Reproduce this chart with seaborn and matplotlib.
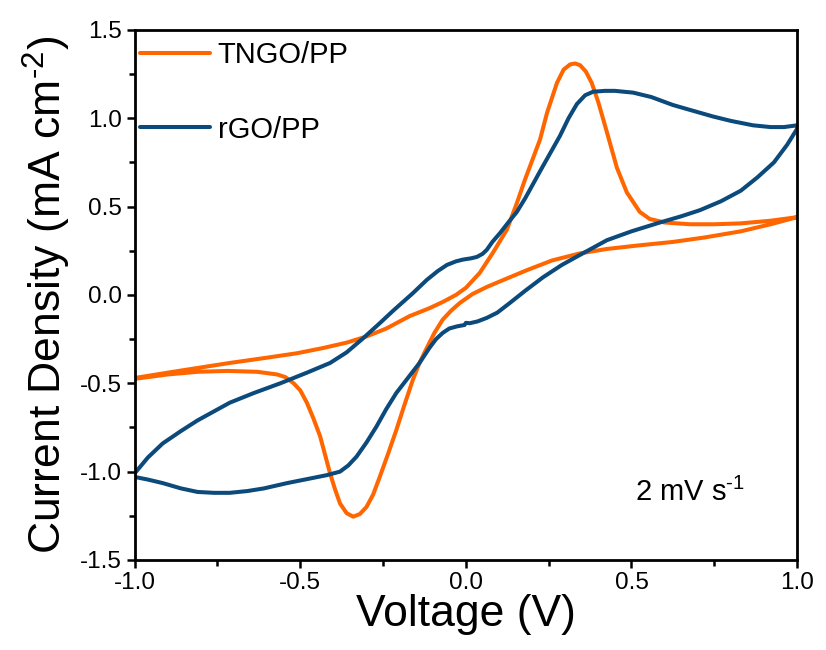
import numpy as np
import pandas as pd
import matplotlib
matplotlib.use("Agg")
import matplotlib.pyplot as plt
import seaborn as sns
from matplotlib.ticker import MultipleLocator

# CV loops (voltage in V, current density in mA cm-2)
tngo_v = [-1.0, -0.85, -0.713, -0.60, -0.51, -0.43, -0.36, -0.30, -0.24, -0.17, -0.11,
          -0.07, -0.03, 0.0, 0.042, 0.082, 0.124, 0.154, 0.178, 0.20, 0.224, 0.245,
          0.275, 0.295, 0.315, 0.33, 0.345, 0.362, 0.38, 0.40, 0.426, 0.456, 0.486, 0.525,
          0.555, 0.60, 0.677, 0.75, 0.83, 0.92, 1.0,
          0.92, 0.83, 0.72, 0.625, 0.52, 0.425, 0.344, 0.26, 0.184, 0.12, 0.063, 0.02,
          -0.018, -0.045, -0.07, -0.095, -0.118, -0.14, -0.16, -0.185, -0.21, -0.235,
          -0.26, -0.28, -0.30, -0.32, -0.34, -0.36, -0.38, -0.395, -0.41, -0.44, -0.46,
          -0.48, -0.50, -0.52, -0.545, -0.57, -0.63, -0.72, -0.81, -0.90, -1.0]
tngo_j = [-0.47, -0.425, -0.385, -0.355, -0.33, -0.30, -0.27, -0.235, -0.19, -0.12, -0.075,
          -0.04, 0.0, 0.04, 0.125, 0.24, 0.37, 0.52, 0.65, 0.76, 0.88, 1.03,
          1.20, 1.275, 1.305, 1.31, 1.30, 1.265, 1.20, 1.09, 0.92, 0.72, 0.58, 0.47,
          0.43, 0.41, 0.40, 0.40, 0.405, 0.42, 0.44,
          0.40, 0.36, 0.325, 0.30, 0.28, 0.26, 0.235, 0.195, 0.14, 0.09, 0.045, 0.005,
          -0.045, -0.09, -0.14, -0.215, -0.30, -0.385, -0.48, -0.62, -0.765, -0.90,
          -1.03, -1.13, -1.20, -1.24, -1.255, -1.235, -1.18, -1.10, -1.01, -0.80, -0.70,
          -0.61, -0.54, -0.50, -0.465, -0.45, -0.435, -0.43, -0.435, -0.45, -0.475]

rgo_v = [-1.0, -0.96, -0.915, -0.86, -0.81, -0.713, -0.64, -0.56, -0.48, -0.41, -0.36,
         -0.31, -0.26, -0.22, -0.16, -0.118, -0.085, -0.057, -0.03, -0.009, 0.015, 0.033,
         0.05, 0.063, 0.08, 0.103, 0.128, 0.154, 0.18, 0.202, 0.224, 0.254, 0.284, 0.31,
         0.335, 0.36, 0.384, 0.42, 0.45, 0.505, 0.56, 0.625, 0.69, 0.746, 0.80, 0.867,
         0.92, 0.96, 1.0,
         1.0, 0.97, 0.93, 0.88, 0.83, 0.77, 0.707, 0.65, 0.586, 0.50, 0.426, 0.344, 0.29,
         0.233, 0.18, 0.133, 0.095, 0.063, 0.035, 0.012, 0.0, -0.004, -0.027, -0.05,
         -0.07, -0.09, -0.11, -0.14, -0.175, -0.21, -0.24, -0.27, -0.30, -0.33, -0.355,
         -0.38, -0.42, -0.46, -0.54, -0.61, -0.66, -0.713, -0.76, -0.81, -0.86, -0.915,
         -0.96, -1.0]
rgo_j = [-1.01, -0.92, -0.84, -0.77, -0.71, -0.61, -0.555, -0.50, -0.44, -0.385, -0.325,
         -0.245, -0.16, -0.09, 0.01, 0.085, 0.135, 0.17, 0.19, 0.20, 0.207, 0.215,
         0.232, 0.255, 0.30, 0.35, 0.41, 0.47, 0.55, 0.625, 0.70, 0.80, 0.90, 1.00,
         1.08, 1.13, 1.15, 1.155, 1.155, 1.145, 1.12, 1.075, 1.04, 1.01, 0.985, 0.96,
         0.95, 0.95, 0.96,
         0.94, 0.85, 0.75, 0.665, 0.59, 0.53, 0.48, 0.445, 0.41, 0.36, 0.31, 0.226, 0.17,
         0.10, 0.025, -0.045, -0.10, -0.13, -0.15, -0.16, -0.158, -0.17, -0.178, -0.19,
         -0.215, -0.25, -0.30, -0.385, -0.47, -0.555, -0.645, -0.745, -0.835, -0.915, -0.965,
         -1.0, -1.02, -1.035, -1.065, -1.095, -1.11, -1.12, -1.12, -1.115, -1.095, -1.065,
         -1.045, -1.03]

samples = ["TNGO/PP", "rGO/PP"]
colors = {"TNGO/PP": "#FF6600", "rGO/PP": "#0B4A7B"}

df = pd.concat([
    pd.DataFrame({"V": tngo_v, "J": tngo_j, "Sample": samples[0]}),
    pd.DataFrame({"V": rgo_v, "J": rgo_j, "Sample": samples[1]}),
], ignore_index=True)

sns.set_theme(style="ticks")
plt.rcParams["font.family"] = ["Liberation Sans", "DejaVu Sans"]
plt.rcParams["mathtext.fontset"] = "custom"
plt.rcParams["mathtext.rm"] = "Liberation Sans"
plt.rcParams["mathtext.it"] = "Liberation Sans:italic"
plt.rcParams["mathtext.default"] = "regular"
plt.rcParams["axes.unicode_minus"] = False
for k in ["text.color", "axes.labelcolor", "xtick.color", "ytick.color", "axes.edgecolor"]:
    plt.rcParams[k] = "black"

fig = plt.figure(figsize=(8.26, 6.5), dpi=100)
ax = fig.add_axes([0.163, 0.1385, 0.802, 0.8155])

sns.lineplot(data=df, x="V", y="J", hue="Sample", palette=colors, sort=False,
             estimator=None, linewidth=2.9, ax=ax)

ax.set_xlim(-1.0, 1.0)
ax.set_ylim(-1.5, 1.5)
ax.xaxis.set_major_locator(MultipleLocator(0.5))
ax.xaxis.set_minor_locator(MultipleLocator(0.25))
ax.yaxis.set_major_locator(MultipleLocator(0.5))
ax.yaxis.set_minor_locator(MultipleLocator(0.25))
ax.tick_params(which="major", direction="out", length=6, width=1.8, labelsize=17.5, pad=3)
ax.tick_params(which="minor", direction="out", length=4, width=1.8)
for s in ax.spines.values():
    s.set_linewidth(2.0)

ax.set_xlabel("Voltage (V)", fontsize=32, labelpad=0)
ax.set_ylabel("Current Density (mA cm$^{\\text{-2}}$)", fontsize=32, labelpad=5)

handles, labels = ax.get_legend_handles_labels()
ax.legend(handles, labels, loc="upper left", bbox_to_anchor=(0.0, 0.99), frameon=False,
          fontsize=21, handlelength=2.4, handletextpad=0.25, labelspacing=1.6,
          borderaxespad=0.1, borderpad=0.1)

ax.text(0.677, -1.12, "2 mV s$^{\\text{-1}}$", fontsize=21, ha="center", va="center")

fig.savefig("out.png", dpi=100)
